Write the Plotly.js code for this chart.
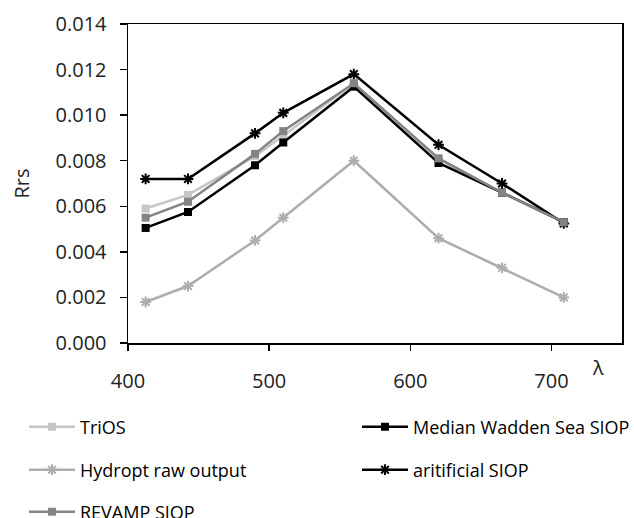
<!DOCTYPE html>
<html>
<head>
<meta charset="utf-8">
<script src="https://cdn.plot.ly/plotly-3.0.1.min.js"></script>
<style>html,body{margin:0;padding:0;background:#fff;}#chart{width:634px;height:518px;}</style>
</head>
<body>
<div id="chart"></div>
<script>
const wavelength = [412.5, 442.5, 490, 510, 560, 620, 665, 708.75];
const trios = [0.0059, 0.0065, 0.0082, 0.0091, 0.0114, 0.0081, 0.0066, 0.0053];
const medianWadden = [0.00505, 0.00575, 0.0078, 0.0088, 0.01125, 0.0079, 0.0066, 0.0053];
const hydroptRaw = [0.0018, 0.0025, 0.0045, 0.0055, 0.0080, 0.0046, 0.0033, 0.0020];
const artificialSiop = [0.0072, 0.0072, 0.0092, 0.0101, 0.0118, 0.0087, 0.0070, 0.00525];
const revampSiop = [0.0055, 0.0062, 0.0083, 0.0093, 0.0114, 0.0081, 0.0066, 0.0053];
const seriesNames = ['TriOS', 'Median Wadden Sea SIOP', 'Hydropt raw output', 'aritificial SIOP', 'REVAMP SIOP'];
const yTicks = [0, 0.002, 0.004, 0.006, 0.008, 0.010, 0.012, 0.014];
const xTicks = [400, 500, 600, 700];

function tr(y, name, color, symbol, msize, legend) {
  return {
    x: wavelength, y: y, name: name, type: 'scatter', mode: 'lines+markers',
    line: {color: color, width: 2.5},
    marker: {color: color, symbol: symbol, size: msize, line: {color: color, width: symbol.indexOf('asterisk') >= 0 ? 2 : 0}},
    legend: legend
  };
}

const data = [
  tr(trios, seriesNames[0], '#c6c6c6', 'square', 8, 'legend'),
  tr(medianWadden, seriesNames[1], '#000000', 'square', 8, 'legend2'),
  tr(hydroptRaw, seriesNames[2], '#adadad', 'asterisk-open', 9, 'legend3'),
  tr(artificialSiop, seriesNames[3], '#000000', 'asterisk-open', 9, 'legend4'),
  tr(revampSiop, seriesNames[4], '#848484', 'square', 8, 'legend5')
];

function leg(px, py) {
  return {
    orientation: 'h', xref: 'container', yref: 'container', xanchor: 'left', yanchor: 'middle',
    x: px / 634, y: 1 - py / 518, itemwidth: 46,
    font: {family: 'Open Sans', size: 18, color: '#000'}, bgcolor: 'rgba(0,0,0,0)'
  };
}

const tickFont = {family: 'Open Sans', size: 20, color: '#222'};

const layout = {
  width: 634, height: 518,
  margin: {l: 128, r: 12, t: 24, b: 175},
  paper_bgcolor: '#fff', plot_bgcolor: '#fff',
  font: {family: 'Open Sans', size: 19, color: '#222'},
  xaxis: {
    range: [400, 750], tickvals: xTicks, ticktext: xTicks.map(String),
    showgrid: false, zeroline: false, showline: true, linecolor: '#000', linewidth: 1.5,
    mirror: true, ticks: 'outside', ticklen: 6, tickcolor: '#000', tickwidth: 1.5,
    tickfont: tickFont, ticklabelstandoff: 13
  },
  yaxis: {
    range: [0, 0.014], tickvals: yTicks, ticktext: yTicks.map(v => v.toFixed(3)),
    showgrid: false, zeroline: false, showline: true, linecolor: '#000', linewidth: 1.5,
    mirror: true, ticks: 'outside', ticklen: 7, tickcolor: '#000', tickwidth: 1.5,
    tickfont: tickFont, ticklabelstandoff: 9,
    title: {text: 'Rrs', font: {family: 'Open Sans', size: 20, color: '#222'}, standoff: 20}
  },
  legend: leg(24, 427),
  legend2: leg(357, 427),
  legend3: leg(24, 470),
  legend4: leg(357, 470),
  legend5: leg(24, 512),
  annotations: [{
    text: 'λ', xref: 'paper', yref: 'paper', x: (606 - 128) / 494, y: 0, yshift: -40,
    showarrow: false, font: {family: 'Open Sans', size: 20, color: '#222'}
  }],
  showlegend: true
};

Plotly.newPlot('chart', data, layout, {displayModeBar: false, staticPlot: true});
</script>
</body>
</html>
